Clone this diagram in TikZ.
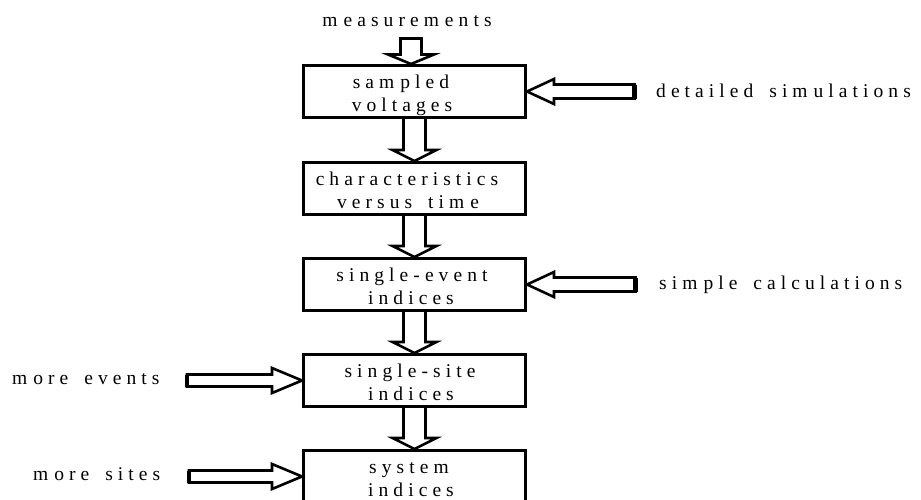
\documentclass[tikz,border=0pt]{standalone}
\usepackage{fontspec}
\setmainfont{Liberation Serif}[LetterSpace=26,WordSpace=1.6]
\newcommand\mk{m\hspace{6pt}}
% vertical arrow from box #1 down to box #2
\newcommand\varr[2]{%
  \draw[arr] ([xshift=-11pt]#1.south) -- ([xshift=-11pt,yshift=11pt]#2.north)
    -- ([xshift=-22pt,yshift=11pt]#2.north) -- (#2.north)
    -- ([xshift=22pt,yshift=11pt]#2.north) -- ([xshift=11pt,yshift=11pt]#2.north)
    -- ([xshift=11pt]#1.south);}
% arrow from free end #1 pointing left to the east side of box #2
\newcommand\larr[2]{%
  \draw[arr] ([yshift=7pt]#1) -- ([xshift=27pt,yshift=7pt]#2.east)
    -- ([xshift=27pt,yshift=12.5pt]#2.east) -- (#2.east)
    -- ([xshift=27pt,yshift=-12.5pt]#2.east) -- ([xshift=27pt,yshift=-7pt]#2.east)
    -- ([yshift=-7pt]#1) -- cycle;
  \draw[endline] ([yshift=7pt]#1) -- ([yshift=-7pt]#1);}
% arrow from free end #1 pointing right to the west side of box #2
\newcommand\rarr[2]{%
  \draw[arr] ([yshift=6pt]#1) -- ([xshift=-30pt,yshift=6pt]#2.west)
    -- ([xshift=-30pt,yshift=12.5pt]#2.west) -- (#2.west)
    -- ([xshift=-30pt,yshift=-12.5pt]#2.west) -- ([xshift=-30pt,yshift=-6pt]#2.west)
    -- ([yshift=-6pt]#1) -- cycle;
  \draw[endline] ([yshift=6pt]#1) -- ([yshift=-6pt]#1);}
\begin{document}
\begin{tikzpicture}[x=1pt,y=-1pt,
  box/.style={draw, line width=3pt, minimum width=222pt, minimum height=52pt, inner sep=0pt},
  arr/.style={draw, line width=2.6pt, line join=miter, fill=white},
  endline/.style={line width=4.3pt},
  lbl/.style={inner sep=0pt, font=\fontsize{19.5}{23}\selectfont},
  ]
\useasboundingbox (0,0) rectangle (921,499);
\clip (0,0) rectangle (921,499);

% boxes
\node[box] (b1) at (414.5,91.5) {};
\node[box] (b2) at (414.5,188.5) {};
\node[box] (b3) at (414.5,284.5) {};
\node[box] (b4) at (414.5,380.5) {};
\node[box] (b5) at (414.5,476.5) {};

% box texts
\node[lbl,anchor=base] (t1a) at (401,88.5) {sa\mk pled};
\node[lbl,anchor=base] (t1b) at (402,111.5) {voltages};
\node[lbl,anchor=base] (t2a) at (407,185) {characteristics};
\node[lbl,anchor=base] (t2b) at (408,208) {versus ti\mk e};
\node[lbl,anchor=base] (t3a) at (412,281) {single-event};
\node[lbl,anchor=base] (t3b) at (411,304) {indices};
\node[lbl,anchor=base] (t4a) at (410,377) {single-site};
\node[lbl,anchor=base] (t4b) at (411,400) {indices};
\node[lbl,anchor=base] (t5a) at (409,473) {syste\mk};
\node[lbl,anchor=base] (t5b) at (411,496) {indices};

% top input
\node[lbl,anchor=base] (meas) at (407,26) {\mk easure\mk ents};
\coordinate (mtop) at (411,38.5);
\coordinate (mtip) at (411,64);
\draw[arr] ([xshift=-10.5pt]mtop) -- ([xshift=-10.5pt,yshift=9.5pt]mtip)
  -- ([xshift=-23pt,yshift=9.5pt]mtip) -- (mtip)
  -- ([xshift=23pt,yshift=9.5pt]mtip) -- ([xshift=10.5pt,yshift=9.5pt]mtip)
  -- ([xshift=10.5pt]mtop) -- cycle;

% flow arrows
\varr{b1}{b2}
\varr{b2}{b3}
\varr{b3}{b4}
\varr{b4}{b5}

% side inputs
\node[lbl,anchor=base west] (sim) at (656,97.5) {detailed si\mk ulations};
\coordinate (simend) at (634.5,91.5);
\larr{simend}{b1}

\node[lbl,anchor=base west] (calc) at (659,289) {si\mk ple calculations};
\coordinate (calcend) at (635.5,284.5);
\larr{calcend}{b3}

\node[lbl,anchor=base west] (ev) at (12,384.5) {\mk ore events};
\coordinate (evend) at (187,380.5);
\rarr{evend}{b4}

\node[lbl,anchor=base west] (st) at (33,480.5) {\mk ore sites};
\coordinate (stend) at (189,476.5);
\rarr{stend}{b5}
\end{tikzpicture}
\end{document}
